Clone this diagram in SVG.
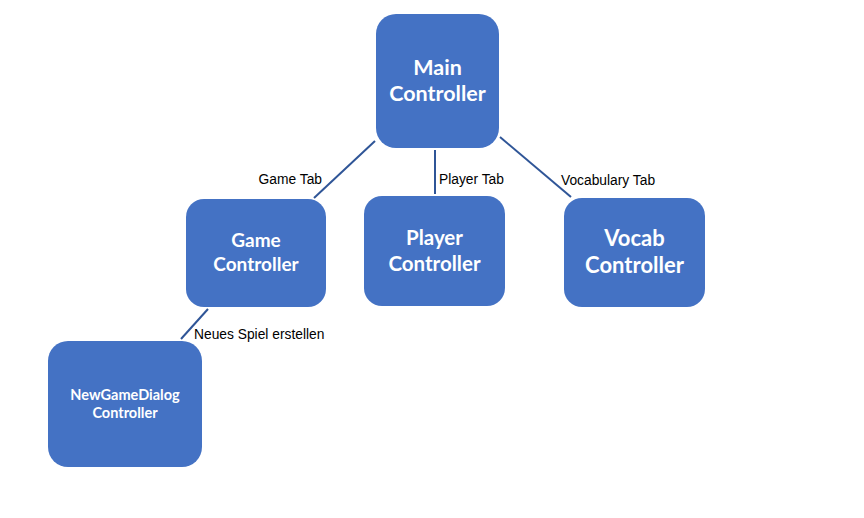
<svg xmlns="http://www.w3.org/2000/svg" width="864" height="518" viewBox="0 0 864 518">
<style>
.box{fill:#4472C4;}
.t{fill:#fff;font-family:Lato,"Open Sans",sans-serif;font-weight:bold;text-anchor:middle;}
.lbl{fill:#000;font-family:"Liberation Sans",Arial,sans-serif;font-size:13.8px;}
.c{stroke:#2F5597;stroke-width:2;fill:none;}
</style>
<rect width="864" height="518" fill="#fff"/>
<g id="connectors">
<line class="c" x1="375" y1="141" x2="314" y2="198"/>
<line class="c" x1="435" y1="150" x2="435" y2="194"/>
<line class="c" x1="500" y1="137" x2="571" y2="197"/>
<line class="c" x1="208" y1="309" x2="181" y2="339"/>
<text class="lbl" x="322" y="184" text-anchor="end">Game Tab</text>
<text class="lbl" x="439" y="184">Player Tab</text>
<text class="lbl" x="561" y="185">Vocabulary Tab</text>
<text class="lbl" x="194" y="339">Neues Spiel erstellen</text>
</g>
<g id="main">
<rect class="box" x="376" y="14" width="123" height="134" rx="20"/>
<text class="t" font-size="21.5" x="437.5" y="75">Main</text>
<text class="t" font-size="21.5" x="437.5" y="101">Controller</text>
</g>
<g id="game">
<rect class="box" x="186" y="199" width="140" height="108" rx="18"/>
<text class="t" font-size="19" x="256" y="247">Game</text>
<text class="t" font-size="19" x="256" y="271">Controller</text>
</g>
<g id="player">
<rect class="box" x="364" y="196" width="141" height="110" rx="18"/>
<text class="t" font-size="20.5" x="434.5" y="245">Player</text>
<text class="t" font-size="20.5" x="434.5" y="271">Controller</text>
</g>
<g id="vocab">
<rect class="box" x="564" y="198" width="141" height="109" rx="18"/>
<text class="t" font-size="22" x="634.5" y="246">Vocab</text>
<text class="t" font-size="22" x="634.5" y="273">Controller</text>
</g>
<g id="newgame">
<rect class="box" x="48" y="341" width="154" height="126" rx="20"/>
<text class="t" font-size="14.5" x="125" y="400">NewGameDialog</text>
<text class="t" font-size="14.5" x="125" y="418">Controller</text>
</g>
</svg>
